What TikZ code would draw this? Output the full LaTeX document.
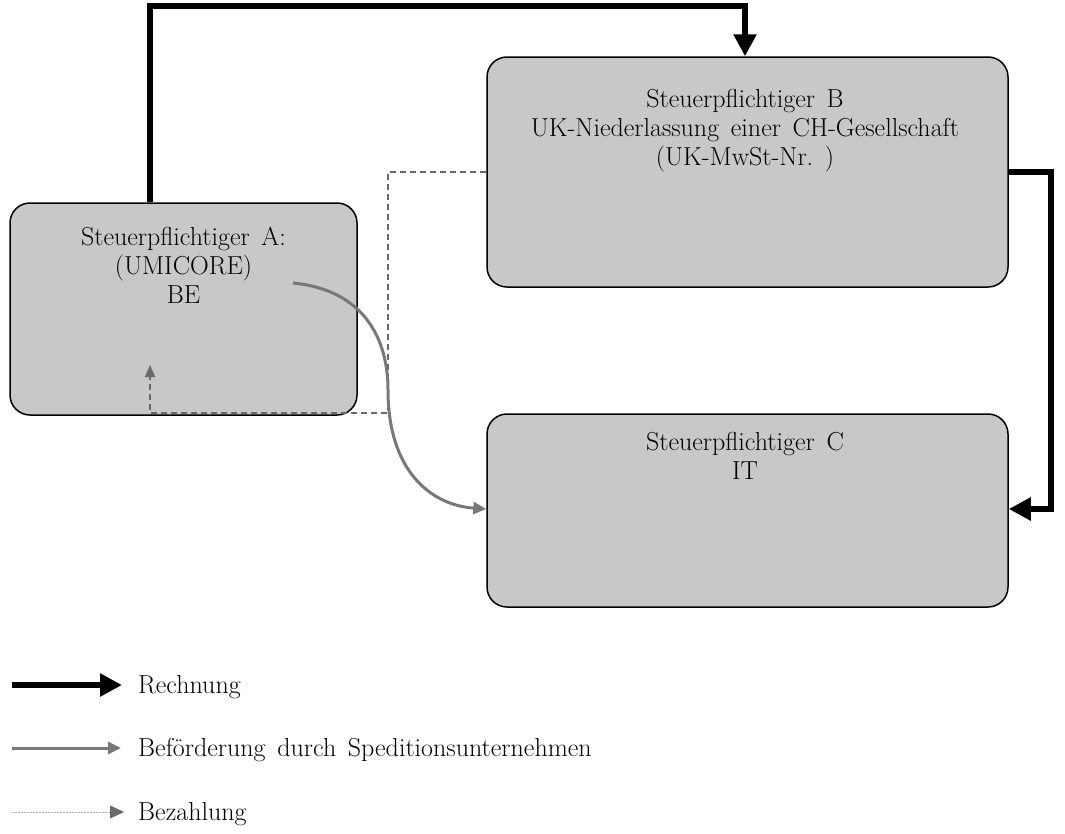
\documentclass[tikz,border=0pt]{standalone}
\usetikzlibrary{arrows.meta,calc}
\definecolor{boxgray}{RGB}{200,200,200}
\definecolor{movegray}{RGB}{120,120,120}
\definecolor{paygray}{RGB}{105,105,105}
\newcommand\wgap{\hspace{0.45em}}
\tikzset{
  party/.style={draw=black,line width=1.5pt,fill=boxgray,rounded corners=20pt,inner sep=0pt},
  ptext/.style={align=center,anchor=north,font=\fontsize{26}{29}\selectfont,inner sep=0pt},
  ltext/.style={anchor=west,font=\fontsize{26}{29}\selectfont,inner sep=0pt},
  invoice/.style={line width=6pt,-{Triangle[length=22pt,width=22pt]}},
  transport/.style={draw=movegray,line width=3pt,-{Triangle[length=13pt,width=12pt]}},
  payment/.style={draw=paygray,line width=1.6pt,dash pattern=on 6pt off 4pt,-{Triangle[length=12pt,width=10pt]}},
  paylegend/.style={draw=black!30,line width=0.8pt,dash pattern=on 2pt off 1pt,-{Triangle[length=14pt,width=13pt,color=paygray,fill=paygray]}}
}
\begin{document}
\begin{tikzpicture}[x=1pt,y=-1pt]
\useasboundingbox (0,0) rectangle (1065,833);
\node[party,minimum width=347pt,minimum height=212pt] (A) at (183.5,309) {};
\node[party,minimum width=521pt,minimum height=230pt] (B) at (747.5,172) {};
\node[party,minimum width=521pt,minimum height=193pt] (C) at (747.5,510.5) {};
\node[ptext] (At) at (183.5,227) {Steuerpflichtiger\wgap A:\\(UMICORE)\\BE};
\node[ptext] (Bt) at (745,89) {Steuerpflichtiger\wgap B\\UK-Niederlassung\wgap einer\wgap CH-Gesellschaft\\(UK-MwSt-Nr.\wgap )};
\node[ptext] (Ct) at (745,432) {Steuerpflichtiger\wgap C\\IT};
% payment (dashed)
\coordinate (pe) at (150,365);
\draw[payment] (B.west) -- (388,172) -- (388,413) -- (150,413) -- (pe);
% invoice arrows
\draw[invoice] ([xshift=-33.5pt]A.north) -- ++(0,-196) -| ([xshift=-2.5pt]B.north);
\draw[invoice] (B.east) -- ++(42,0) |- ([yshift=1.5pt]C.east);
% transport
\coordinate (ts) at (293,283);
\draw[transport] (ts) .. controls (365,290) and (388,340) .. (388,390) .. controls (388,470) and (430,505) .. ([yshift=1.5pt]C.west);
% legend
\coordinate (l1s) at (12,685); \coordinate (l1e) at (122,685);
\draw[invoice] (l1s) -- (l1e);
\node[ltext] (l1) at (138,687) {Rechnung};
\coordinate (l2s) at (12,748); \coordinate (l2e) at (121,748);
\draw[transport] (l2s) -- (l2e);
\node[ltext] (l2) at (138,750) {Beförderung\wgap durch\wgap Speditionsunternehmen};
\coordinate (l3s) at (12,812); \coordinate (l3e) at (124,812);
\draw[paylegend] (l3s) -- (l3e);
\node[ltext] (l3) at (138,814) {Bezahlung};
\end{tikzpicture}
\end{document}
